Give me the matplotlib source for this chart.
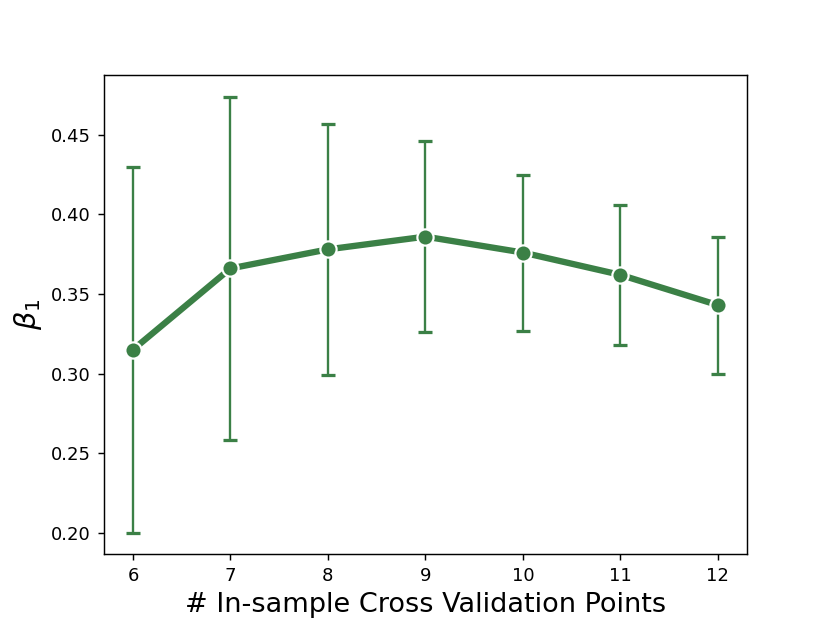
import matplotlib
matplotlib.use("Agg")
import matplotlib.pyplot as plt

# In-sample cross validation points vs beta_1 estimate
n_points = [6, 7, 8, 9, 10, 11, 12]
beta1_mean = [0.315, 0.366, 0.378, 0.386, 0.376, 0.362, 0.343]
beta1_err = [0.115, 0.108, 0.079, 0.060, 0.049, 0.044, 0.043]

color = "#3b8046"

fig = plt.figure(figsize=(8.3 / 1.3, 6.23 / 1.3), dpi=130)
ax = fig.add_subplot(111)

ax.errorbar(n_points, beta1_mean, yerr=beta1_err, fmt="none", ecolor=color,
            elinewidth=1.3, capsize=3.9, capthick=1.8, zorder=2)
ax.plot(n_points, beta1_mean, color=color, linewidth=3.5, marker="o",
        markersize=9, markeredgecolor="white", markeredgewidth=1.2, zorder=3)

ax.set_xlabel("# In-sample Cross Validation Points", fontsize=15)
ax.set_ylabel(r"$\beta_1$", fontsize=16)

fig.savefig("out.png", dpi=130)
